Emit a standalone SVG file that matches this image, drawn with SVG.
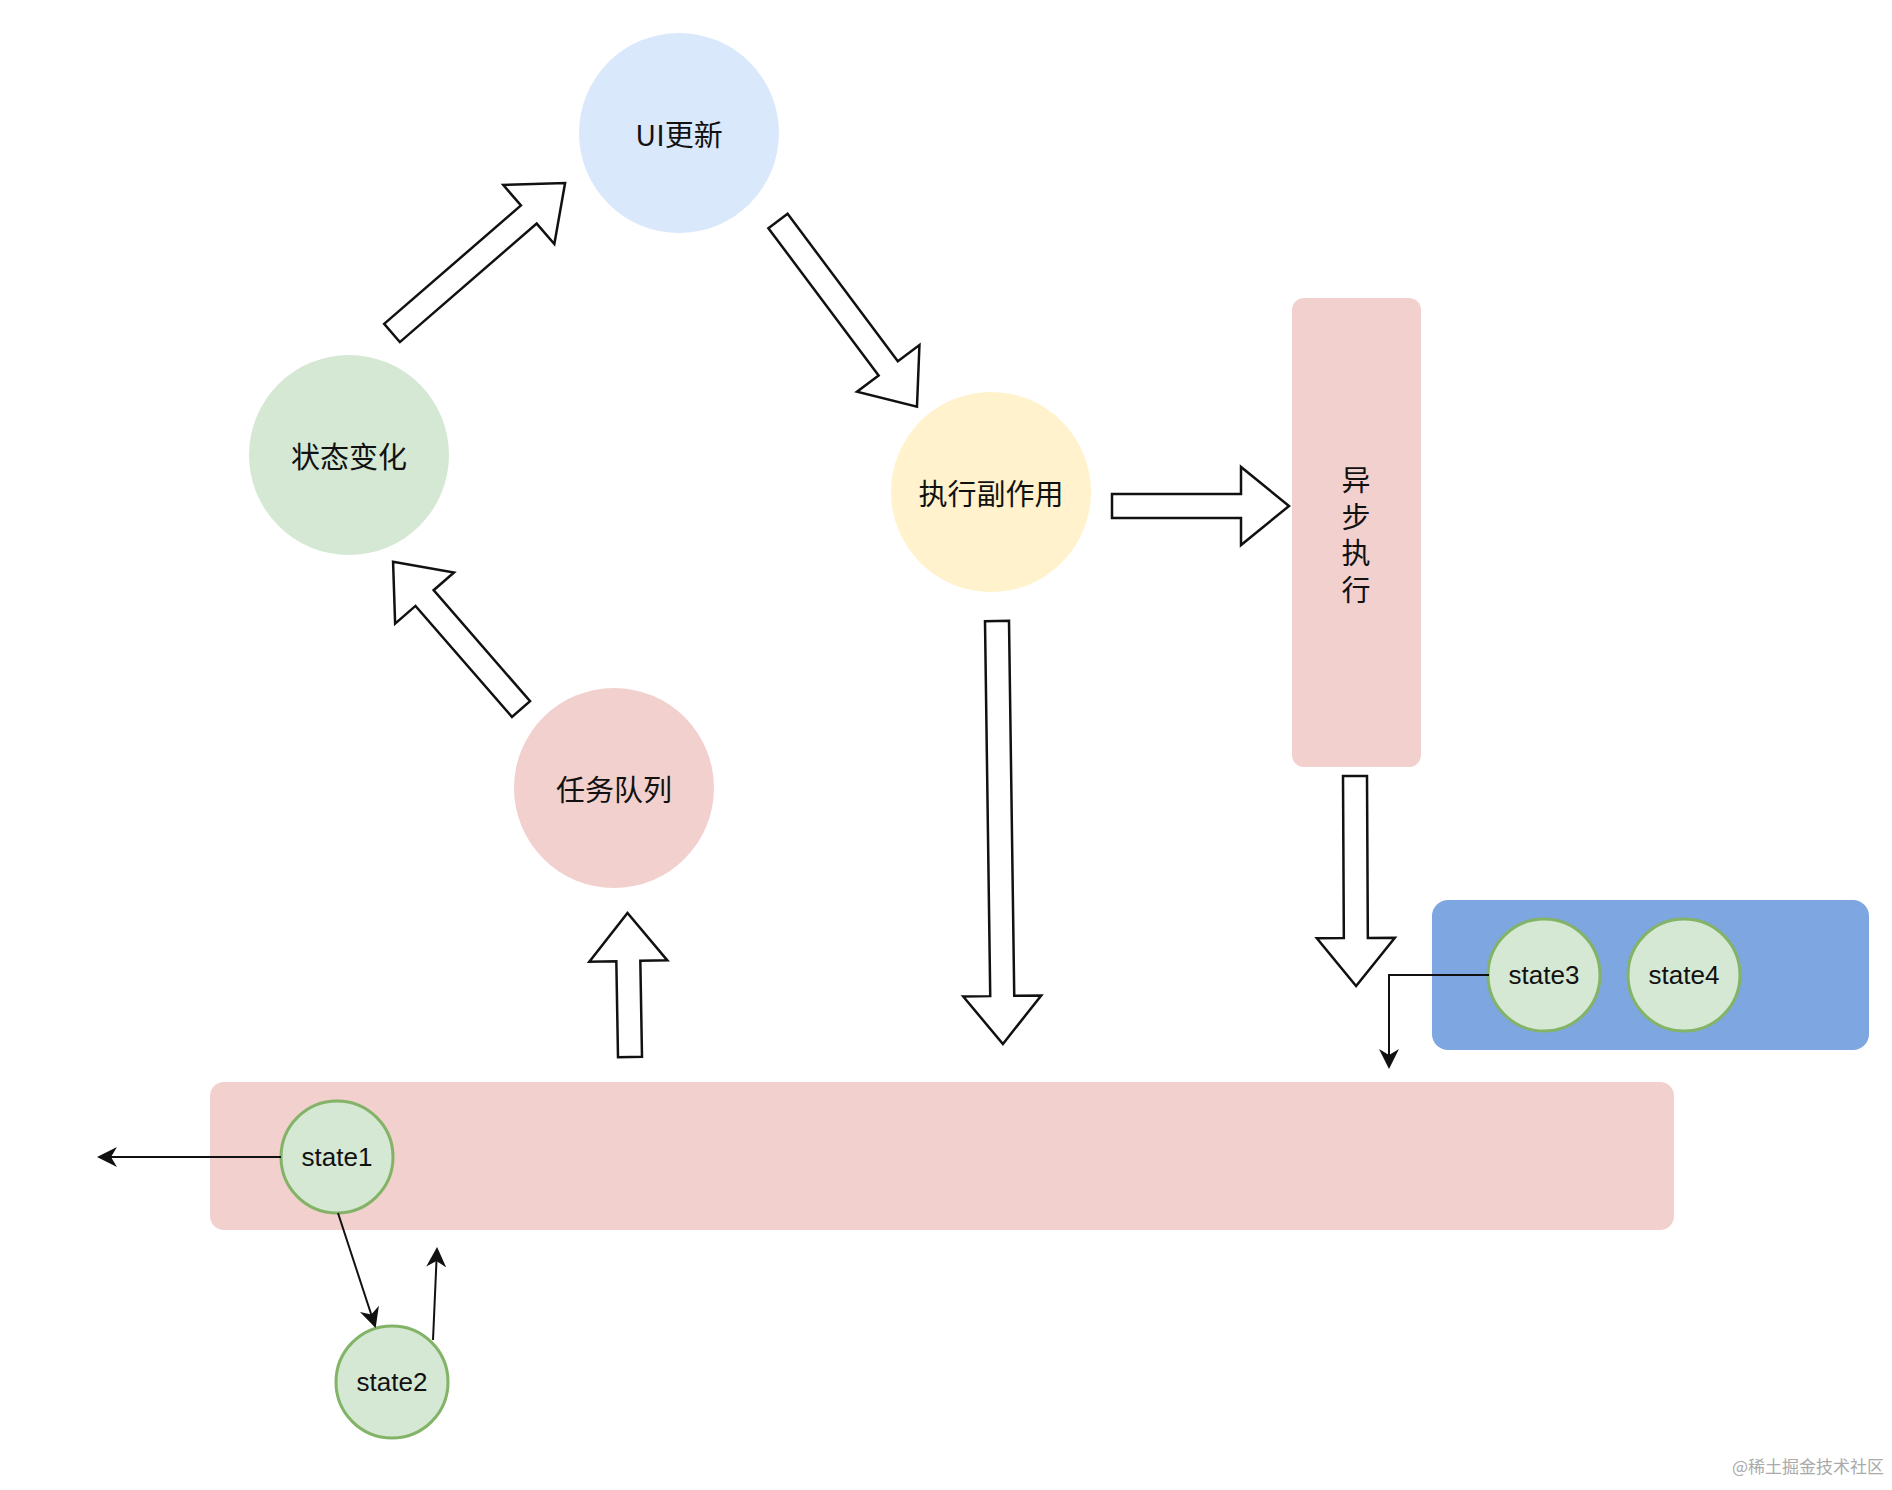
<svg xmlns="http://www.w3.org/2000/svg" width="1892" height="1490" viewBox="0 0 1892 1490">
<defs>
<style>
.t{font-family:"Noto Sans CJK SC","Liberation Sans",sans-serif;font-size:29px;fill:#111;text-anchor:middle;dominant-baseline:central}
.s{font-family:"Liberation Sans",Arial,sans-serif;font-size:26px;fill:#111;text-anchor:middle;dominant-baseline:central}
.sc{fill:#d5e8d4;stroke:#82b366;stroke-width:3}
.ba{fill:#fff;stroke:#111;stroke-width:2.5;stroke-linejoin:miter}
.ln{fill:none;stroke:#111;stroke-width:2}
</style>
<marker id="ah" viewBox="0 0 10 10" refX="9" refY="5" markerWidth="9" markerHeight="9" orient="auto" markerUnits="userSpaceOnUse"><path d="M0,0 L10,5 L0,10 L3,5 Z" fill="#111"/></marker>
<marker id="ah2" viewBox="0 0 10 10" refX="9" refY="5" markerWidth="20" markerHeight="20" orient="auto" markerUnits="userSpaceOnUse"><path d="M0,0 L10,5 L0,10 L3,5 Z" fill="#111"/></marker>
</defs>
<rect width="1892" height="1490" fill="#fff"/>
<g id="bar"><rect x="210" y="1082" width="1464" height="148" rx="14" fill="#f2d0ce"/></g>
<g id="async"><rect x="1292" y="298" width="129" height="469" rx="12" fill="#f2d0ce"/>
<text class="t" x="1356" y="478">异</text><text class="t" x="1356" y="515">步</text><text class="t" x="1356" y="551">执</text><text class="t" x="1356" y="588">行</text></g>
<g id="bluebox"><rect x="1432" y="900" width="437" height="150" rx="16" fill="#7ea6e0"/></g>
<g id="ui"><circle cx="679" cy="133" r="100" fill="#dae8fc"/><text class="t" x="679" y="133">UI更新</text></g>
<g id="state"><circle cx="349" cy="455" r="100" fill="#d5e8d4"/><text class="t" x="349" y="455">状态变化</text></g>
<g id="effect"><circle cx="991" cy="492" r="100" fill="#fff2cc"/><text class="t" x="991" y="492">执行副作用</text></g>
<g id="queue"><circle cx="614" cy="788" r="100" fill="#f2d0ce"/><text class="t" x="614" y="788">任务队列</text></g>
<g id="state3"><circle class="sc" cx="1544" cy="975" r="56"/><text class="s" x="1544" y="975">state3</text></g>
<g id="state4"><circle class="sc" cx="1684" cy="975" r="56"/><text class="s" x="1684" y="975">state4</text></g>
<g id="state1"><circle class="sc" cx="337" cy="1157" r="56"/><text class="s" x="337" y="1157">state1</text></g>
<g id="state2"><circle class="sc" cx="392" cy="1382" r="56"/><text class="s" x="392" y="1382">state2</text></g>
<g id="connectors">
<polygon class="ba" transform="translate(392,333) rotate(-40.9)" points="0,-12 181,-12 181,-39 229,0 181,39 181,12 0,12"/>
<polygon class="ba" transform="translate(778,221) rotate(53.2)" points="0,-12 184,-12 184,-39 232,0 184,39 184,12 0,12"/>
<polygon class="ba" transform="translate(1112,506)" points="0,-12 129,-12 129,-39 177,0 129,39 129,12 0,12"/>
<polygon class="ba" transform="translate(521,709) rotate(-131)" points="0,-12 147,-12 147,-39 195,0 147,39 147,12 0,12"/>
<polygon class="ba" transform="translate(630,1057) rotate(-91)" points="0,-12 96,-12 96,-39 144,0 96,39 96,12 0,12"/>
<polygon class="ba" transform="translate(997,621) rotate(89.2)" points="0,-12 375,-12 375,-39 423,0 375,39 375,12 0,12"/>
<polygon class="ba" transform="translate(1355,776) rotate(89.7)" points="0,-12 162,-12 162,-39 210,0 162,39 162,12 0,12"/>
<polyline class="ln" points="1489,975 1389,975 1389,1067" marker-end="url(#ah2)"/>
<line class="ln" x1="281" y1="1157" x2="99" y2="1157" marker-end="url(#ah2)"/>
<line class="ln" x1="338" y1="1213" x2="375" y2="1326" marker-end="url(#ah2)"/>
<line class="ln" x1="433" y1="1340" x2="437" y2="1249" marker-end="url(#ah2)"/>
</g>
<text x="1884" y="1473" font-family="Noto Sans CJK SC,sans-serif" font-size="17" fill="#aaa" text-anchor="end">@稀土掘金技术社区</text>
</svg>
